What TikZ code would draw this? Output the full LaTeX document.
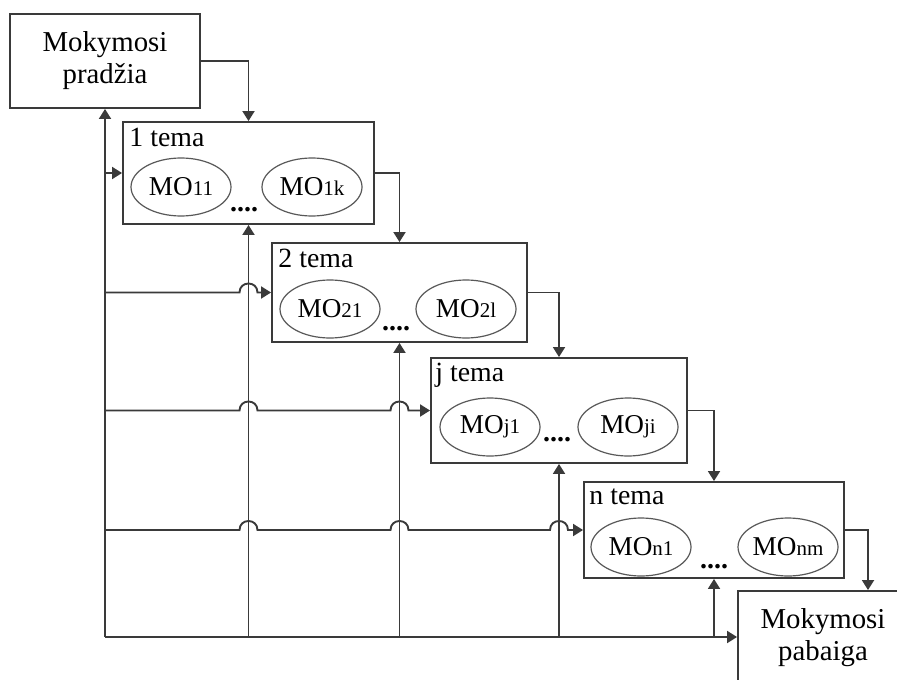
\documentclass[tikz,border=0pt]{standalone}
\usepackage{fontspec}
\setmainfont{Liberation Serif}
\usetikzlibrary{arrows.meta,calc,shapes.geometric}
\definecolor{lc}{HTML}{3A3A3A}
\newcommand\subt[1]{{\fontsize{10.5}{11}\selectfont #1}}
\begin{document}
\begin{tikzpicture}[x=0.5pt,y=-0.5pt,
  box/.style={draw=lc, line width=0.95pt, inner sep=0pt},
  bigtxt/.style={font=\fontsize{14.4}{16}\selectfont, align=center},
  mo/.style={draw=lc!85, line width=0.6pt, ellipse, minimum width=50pt, minimum height=29pt, inner sep=0pt, font=\fontsize{13.6}{15}\selectfont},
  lbl/.style={anchor=base west, inner sep=0pt, font=\fontsize{13.9}{15}\selectfont},
  dotsn/.style={inner sep=0pt, font=\fontsize{14}{15}\selectfont\bfseries},
  conn/.style={draw=lc, line width=0.95pt, -{Triangle[length=5pt,width=6pt]}},
  jmp/.style={insert path={-- ($(#1)+(-9,0)$) .. controls +(0,-12) and +(0,-12) .. ($(#1)+(9,0)$)}}
]
\useasboundingbox (0,0) rectangle (897,679);
\clip (0,0) rectangle (897,679);

% main boxes
\node[box, bigtxt, minimum width=95pt, minimum height=47pt] (start) at (105,61) {Mokymosi\\pradžia};
\node[box, minimum width=125.5pt, minimum height=51pt] (b1) at (248.5,173) {};
\node[box, minimum width=127.5pt, minimum height=49.5pt] (b2) at (399.5,292.5) {};
\node[box, minimum width=128pt, minimum height=52.5pt] (bj) at (559,410.5) {};
\node[box, minimum width=130pt, minimum height=48pt] (bn) at (714,530) {};
\node[box, bigtxt, minimum width=85pt, minimum height=47pt] (end) at (823,638) {Mokymosi\\pabaiga};

% labels
\node[lbl] (l1) at ($(b1.north west)+(7,25)$) {1 tema};
\node[lbl] (l2) at ($(b2.north west)+(7,25)$) {2 tema};
\node[lbl] (lj) at ($(bj.north west)+(5,24)$) {j tema};
\node[lbl] (ln) at ($(bn.north west)+(6,23)$) {n tema};

% ellipses
\node[mo] (e11) at (181,187) {MO\subt{11}};
\node[mo] (e1k) at (312,187) {MO\subt{1k}};
\node[mo] (e21) at (330,309) {MO\subt{21}};
\node[mo] (e2l) at (466,309) {MO\subt{2l}};
\node[mo] (ej1) at (490,427) {MO\subt{j1}};
\node[mo] (eji) at (628,427) {MO\subt{ji}};
\node[mo] (en1) at (641,547) {MO\subt{n1}};
\node[mo] (enm) at (788,547) {MO\subt{nm}};

% dots
\node[dotsn] (d1) at (244,210) {....};
\node[dotsn] (d2) at (396,329) {....};
\node[dotsn] (dj) at (557,440) {....};
\node[dotsn] (dn) at (714,567) {....};

% forward chain
\draw[conn] (start.east) -| (b1.north);
\draw[conn] (b1.east) -| (b2.north);
\draw[conn] (b2.east) -| (bj.north);
\draw[conn] (bj.east) -| (bn.north);
\draw[conn] (bn.east) -| ([xshift=22.5pt]end.north);

% bottom line and verticals
\coordinate (botl) at (105,637);
\draw[conn] (botl) -- (end.west |- botl);
\draw[conn] (botl) -- (start.south);
\draw[conn] (b1.south |- botl) -- (b1.south);
\draw[conn] (b2.south |- botl) -- (b2.south);
\draw[conn] (bj.south |- botl) -- (bj.south);
\draw[conn] (bn.south |- botl) -- (bn.south);

% left horizontals with jumps
\draw[conn] (start.south |- b1.west) -- (b1.west);
\draw[conn] (start.south |- b2.west) [jmp={b1.south |- b2.west}] -- (b2.west);
\draw[conn] (start.south |- bj.west) [jmp={b1.south |- bj.west}] [jmp={b2.south |- bj.west}] -- (bj.west);
\draw[conn] (start.south |- bn.west) [jmp={b1.south |- bn.west}] [jmp={b2.south |- bn.west}] [jmp={bj.south |- bn.west}] -- (bn.west);
\end{tikzpicture}
\end{document}
